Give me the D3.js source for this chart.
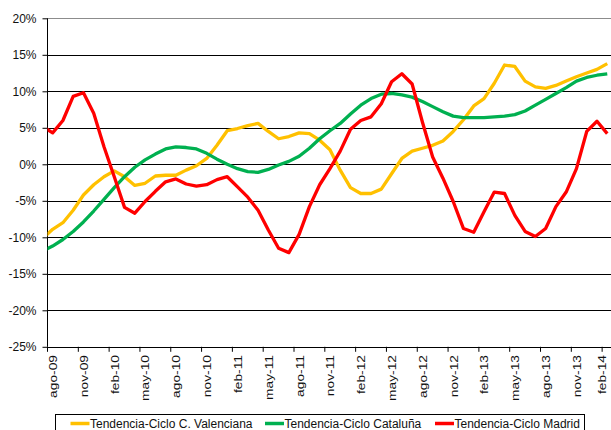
<!DOCTYPE html>
<html>
<head>
<meta charset="utf-8">
<script src="https://cdn.jsdelivr.net/npm/d3@7"></script>
<style>
  body { margin: 0; background: #fff; }
  svg { display: block; font-family: "Liberation Sans", Arial, sans-serif; }
</style>
</head>
<body>
<svg id="chart" width="611" height="430"></svg>
<script>
// months from jul-09 (first point sits left of the axis and is clipped) to feb-14
const months = ["jul-09","ago-09","sep-09","oct-09","nov-09","dic-09","ene-10","feb-10","mar-10","abr-10","may-10","jun-10","jul-10","ago-10","sep-10","oct-10","nov-10","dic-10","ene-11","feb-11","mar-11","abr-11","may-11","jun-11","jul-11","ago-11","sep-11","oct-11","nov-11","dic-11","ene-12","feb-12","mar-12","abr-12","may-12","jun-12","jul-12","ago-12","sep-12","oct-12","nov-12","dic-12","ene-13","feb-13","mar-13","abr-13","may-13","jun-13","jul-13","ago-13","sep-13","oct-13","nov-13","dic-13","ene-14","feb-14"];

const valenciana = [-10.2,-8.9,-8.0,-6.3,-4.2,-2.8,-1.7,-0.9,-1.7,-2.9,-2.6,-1.6,-1.5,-1.5,-0.8,-0.2,0.8,2.6,4.6,4.9,5.3,5.6,4.5,3.5,3.8,4.3,4.2,3.3,2.0,-0.8,-3.2,-4.0,-4.0,-3.4,-1.3,0.8,1.8,2.2,2.6,3.2,4.5,6.1,8.0,9.0,11.1,13.6,13.4,11.4,10.6,10.4,10.8,11.4,12.0,12.5,13.0,13.8];
const cataluna = [-11.9,-11.2,-10.3,-9.2,-7.9,-6.4,-4.8,-3.2,-1.7,-0.4,0.6,1.4,2.1,2.4,2.3,2.1,1.5,0.7,0.0,-0.6,-1.0,-1.1,-0.7,-0.1,0.4,1.1,2.2,3.5,4.6,5.6,6.9,8.1,9.0,9.6,9.7,9.5,9.2,8.6,7.9,7.2,6.6,6.4,6.4,6.4,6.5,6.6,6.8,7.3,8.1,8.9,9.7,10.5,11.4,11.9,12.2,12.4];
const madrid = [5.2,4.3,6.0,9.3,9.8,7.0,2.4,-1.7,-5.9,-6.7,-5.1,-3.7,-2.4,-2.0,-2.7,-3.0,-2.8,-2.1,-1.7,-3.1,-4.5,-6.3,-9.0,-11.5,-12.1,-9.6,-5.8,-2.8,-0.6,1.8,4.8,6.0,6.5,8.3,11.3,12.4,11.0,5.8,1.0,-1.9,-5.1,-8.8,-9.3,-6.5,-3.8,-4.0,-7.0,-9.2,-9.9,-8.8,-5.8,-3.8,-0.6,4.5,5.9,4.2];

const seriesNames = ["Tendencia-Ciclo C. Valenciana", "Tendencia-Ciclo Cataluña", "Tendencia-Ciclo Madrid"];
const seriesColors = ["#ffc000", "#00b050", "#ff0000"];
const yTicks = [-25, -20, -15, -10, -5, 0, 5, 10, 15, 20];

const svg = d3.select('#chart');
const plot = {left: 47.5, top: 18.3, bottom: 346.8, right: 612.4};

// first shown category (ago-09) has index 1 in months
const xScale = d3.scaleLinear()
    .domain([0.5, months.length - 0.5])
    .range([plot.left, plot.right]);

const yScale = d3.scaleLinear()
    .domain([-25, 20])
    .range([plot.bottom, plot.top]);

svg.append('defs').append('clipPath').attr('id', 'plotClip')
    .append('rect')
    .attr('x', plot.left).attr('y', plot.top - 5)
    .attr('width', plot.right - plot.left).attr('height', plot.bottom - plot.top + 10);

// gridlines
svg.append('g').selectAll('line')
    .data(yTicks.filter(d => d > -25))
    .join('line')
    .attr('x1', plot.left).attr('x2', plot.right)
    .attr('y1', d => Math.round(yScale(d)) + 0.5)
    .attr('y2', d => Math.round(yScale(d)) + 0.5)
    .attr('stroke', d => d === 20 ? '#8c8c8c' : '#000')
    .attr('stroke-width', 1);

// y axis
const yAxis = svg.append('g')
    .attr('transform', `translate(${plot.left},0)`)
    .call(d3.axisLeft(yScale).tickValues(yTicks).tickSize(5).tickPadding(6)
        .tickFormat(d => d + '%'));
yAxis.select('.domain').attr('stroke', '#000').attr('d', `M0,${plot.top}V${plot.bottom}`);
yAxis.selectAll('.tick line').attr('stroke', '#000');
yAxis.selectAll('.tick text')
    .attr('font-size', 12)
    .attr('fill', '#111')
    .attr('font-family', '"Liberation Sans", Arial, sans-serif');

// x axis: ticks on category boundaries every 3 months, labels at category centres
const shown = d3.range(1, months.length, 3);
const xAxis = svg.append('g');
xAxis.append('line')
    .attr('x1', plot.left).attr('x2', plot.right)
    .attr('y1', Math.round(plot.bottom) + 0.5).attr('y2', Math.round(plot.bottom) + 0.5)
    .attr('stroke', '#000');
xAxis.selectAll('.xtick')
    .data(shown)
    .join('line')
    .classed('xtick', true)
    .attr('x1', d => xScale(d - 0.5)).attr('x2', d => xScale(d - 0.5))
    .attr('y1', plot.bottom).attr('y2', plot.bottom + 5)
    .attr('stroke', '#000');
xAxis.selectAll('.xlabel')
    .data(shown)
    .join('text')
    .classed('xlabel', true)
    .attr('transform', d => `translate(${Math.min(xScale(d) + 0.5, 602.5)},355) rotate(-90) scale(1.15,0.92)`)
    .attr('text-anchor', 'end')
    .attr('dy', '0.35em')
    .attr('font-size', 12)
    .attr('fill', '#111')
    .text(d => months[d]);

// series lines
const allSeries = [valenciana, cataluna, madrid];
const line = d3.line()
    .x((d, i) => xScale(i))
    .y(d => yScale(d));

svg.append('g').attr('clip-path', 'url(#plotClip)')
    .selectAll('path')
    .data(allSeries)
    .join('path')
    .attr('d', d => line(d))
    .attr('fill', 'none')
    .attr('stroke', (d, i) => seriesColors[i])
    .attr('stroke-width', 3.3)
    .attr('stroke-linejoin', 'round');

// legend
const legend = svg.append('g');
legend.append('rect')
    .attr('x', 55.5).attr('y', 414.5)
    .attr('width', 529).attr('height', 24)
    .attr('fill', '#fff').attr('stroke', '#000');
const legendX = [70.5, 265, 435];
const item = legend.selectAll('.item')
    .data(seriesNames)
    .join('g')
    .classed('item', true)
    .attr('transform', (d, i) => `translate(${legendX[i]},423.5)`);
item.append('line')
    .attr('x1', 0).attr('x2', 19)
    .attr('stroke', (d, i) => seriesColors[i])
    .attr('stroke-width', 3.5);
item.append('text')
    .attr('x', 19.5)
    .attr('dy', '0.35em')
    .attr('font-size', 12)
    .attr('fill', '#111')
    .text(d => d);
</script>
</body>
</html>
